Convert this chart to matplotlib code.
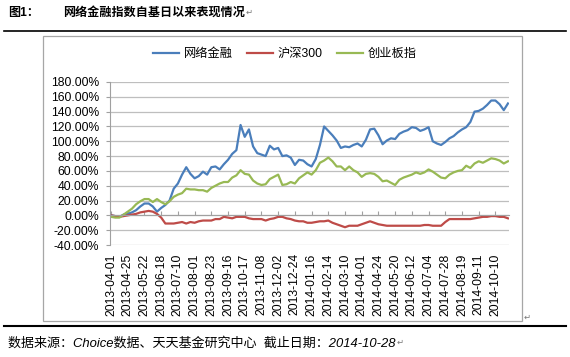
import numpy as np
import matplotlib
matplotlib.use("Agg")
import matplotlib.pyplot as plt
from matplotlib.lines import Line2D
from matplotlib.patches import Rectangle
from matplotlib.ticker import FuncFormatter

plt.rcParams['font.family'] = ['Liberation Sans', 'Noto Sans CJK SC', 'DejaVu Sans']

# trading-day index of each sample (every 4th trading day, 2013-04-01 .. 2014-10-28)
sample_days = np.arange(0, 381, 4)

# cumulative return since base day, %
net_finance = [0, -1, -2, 1, 2, 4, 7, 12, 16, 16,
               12, 5, 10, 14, 20, 36, 43, 55, 65, 56,
               50, 53, 59, 55, 65, 66, 62, 69, 75, 83,
               88, 122, 106, 116, 93, 84, 82, 80, 94, 89,
               91, 80, 81, 78, 68, 75, 74, 69, 66, 76,
               95, 120, 114, 108, 101, 91, 93, 92, 95, 97,
               93, 102, 116, 117, 108, 96, 101, 104, 103, 110,
               113, 115, 119, 118, 114, 116, 119, 100, 97, 95,
               99, 104, 107, 112, 116, 119, 126, 140, 141, 144,
               149, 155, 155, 150, 142, 151]
hs300 = [0, -1, -2, -1, 0, 1, 2, 4, 5, 6,
         5, 2, -3, -11, -11, -11, -10, -9, -11, -9,
         -10, -8, -7, -7, -7, -5, -5, -2, -3, -4,
         -2, -2, -2, -4, -5, -5, -5, -7, -5, -4,
         -2, -2, -4, -5, -7, -8, -8, -10, -10, -9,
         -8, -8, -7, -10, -12, -14, -16, -14, -14, -14,
         -12, -10, -8, -10, -12, -13, -14, -14, -14, -14,
         -14, -14, -14, -14, -14, -13, -13, -14, -14, -14,
         -9, -5, -5, -5, -5, -5, -5, -4, -3, -2,
         -2, -1, -1, -2, -2, -4]
chinext = [-2, -3, -3, 1, 5, 9, 15, 19, 22, 22,
           18, 22, 18, 15, 19, 25, 28, 30, 36, 35,
           35, 34, 34, 32, 37, 40, 43, 45, 45, 51,
           54, 61, 56, 55, 47, 43, 41, 42, 49, 52,
           55, 41, 42, 45, 43, 50, 54, 58, 55, 61,
           71, 74, 78, 73, 66, 66, 61, 66, 61, 58,
           52, 56, 57, 56, 52, 46, 47, 44, 41, 48,
           51, 53, 55, 58, 56, 58, 62, 59, 55, 51,
           50, 55, 58, 60, 61, 67, 64, 70, 73, 71,
           74, 77, 76, 74, 70, 73]

series_names = ['网络金融', '沪深300', '创业板指']
series_colors = ['#4A7EBB', '#BE4B48', '#98B954']

tick_dates = ['2013-04-01', '2013-04-25', '2013-05-22', '2013-06-18', '2013-07-10',
              '2013-08-01', '2013-08-23', '2013-09-16', '2013-10-17', '2013-11-08',
              '2013-12-02', '2013-12-24', '2014-01-16', '2014-02-14', '2014-03-10',
              '2014-04-01', '2014-04-24', '2014-05-20', '2014-06-12', '2014-07-04',
              '2014-07-28', '2014-08-19', '2014-09-11', '2014-10-10']
tick_days = np.arange(len(tick_dates)) * 16

W, H = 570, 357
fig = plt.figure(figsize=(W / 100, H / 100), dpi=100)

def fx(px):
    return px / W

def fy(py):
    return 1 - py / H

ax = fig.add_axes([fx(110), fy(245), fx(509) - fx(110), fy(82) - fy(245)])

for vals, name, col in zip([net_finance, hs300, chinext], series_names, series_colors):
    ax.plot(sample_days, vals, color=col, lw=1.6, label=name, solid_joinstyle='round')

ax.set_ylim(-40, 180)
ax.set_yticks(np.arange(-40, 181, 20))
ax.yaxis.set_major_formatter(FuncFormatter(lambda v, p: f'{v:.2f}%'))
ax.set_xlim(-1, 381)
ax.grid(axis='y', color='#BEBEBE', lw=0.9)
ax.set_axisbelow(True)

for s in ['top', 'right']:
    ax.spines[s].set_visible(False)
ax.spines['left'].set_color('#A0A0A0')
ax.spines['bottom'].set_position(('data', 0))
ax.spines['bottom'].set_color('#A0A0A0')
ax.set_xticks(tick_days)
ax.tick_params(axis='x', direction='in', length=3, color='#A0A0A0', labelbottom=False)
ax.tick_params(axis='y', direction='out', length=3, color='#A0A0A0', pad=5, labelsize=8.7)

# date labels sit at the bottom of the plot
sec = ax.secondary_xaxis(0)
sec.set_xticks(tick_days, labels=tick_dates)
sec.tick_params(length=0, pad=6, labelsize=8.7, labelrotation=90)
sec.spines['bottom'].set_visible(False)

fig.legend(loc='center', bbox_to_anchor=(fx(285), fy(54)), ncol=3, frameon=False,
           fontsize=8.8, handlelength=2.1, handletextpad=0.4, columnspacing=1.2)

# chart frame and page rules
fig.add_artist(Rectangle((fx(43), fy(321)), fx(522) - fx(43), fy(36) - fy(321),
                         transform=fig.transFigure, fill=False, edgecolor='#A6A6A6', lw=0.9))
fig.add_artist(Line2D([fx(4), fx(566)], [fy(31), fy(31)], color='black', lw=1.2))
fig.add_artist(Line2D([fx(4), fx(566)], [fy(326), fy(326)], color='black', lw=1.5))

fig.text(fx(8), fy(13), '图1：', fontsize=8.7, weight='bold', va='center')
title = fig.text(fx(63), fy(13), '网络金融指数自基日以来表现情况', fontsize=8.7,
                 weight='bold', va='center')
footer = fig.text(fx(8), fy(343), '数据来源：Choice数据、天天基金研究中心  截止日期：2014-10-28',
                  fontsize=9.4, style='italic', va='center')
# paragraph marks as in the source document
for t in [title, footer]:
    ax.annotate('↵', xy=(1, 0.5), xycoords=t, xytext=(0.5, 0), textcoords='offset points',
                fontsize=6, color='#777777', va='center', annotation_clip=False)
fig.text(fx(524), fy(318), '↵', fontsize=6, color='#777777', va='center')

fig.savefig('out.png', dpi=100)
